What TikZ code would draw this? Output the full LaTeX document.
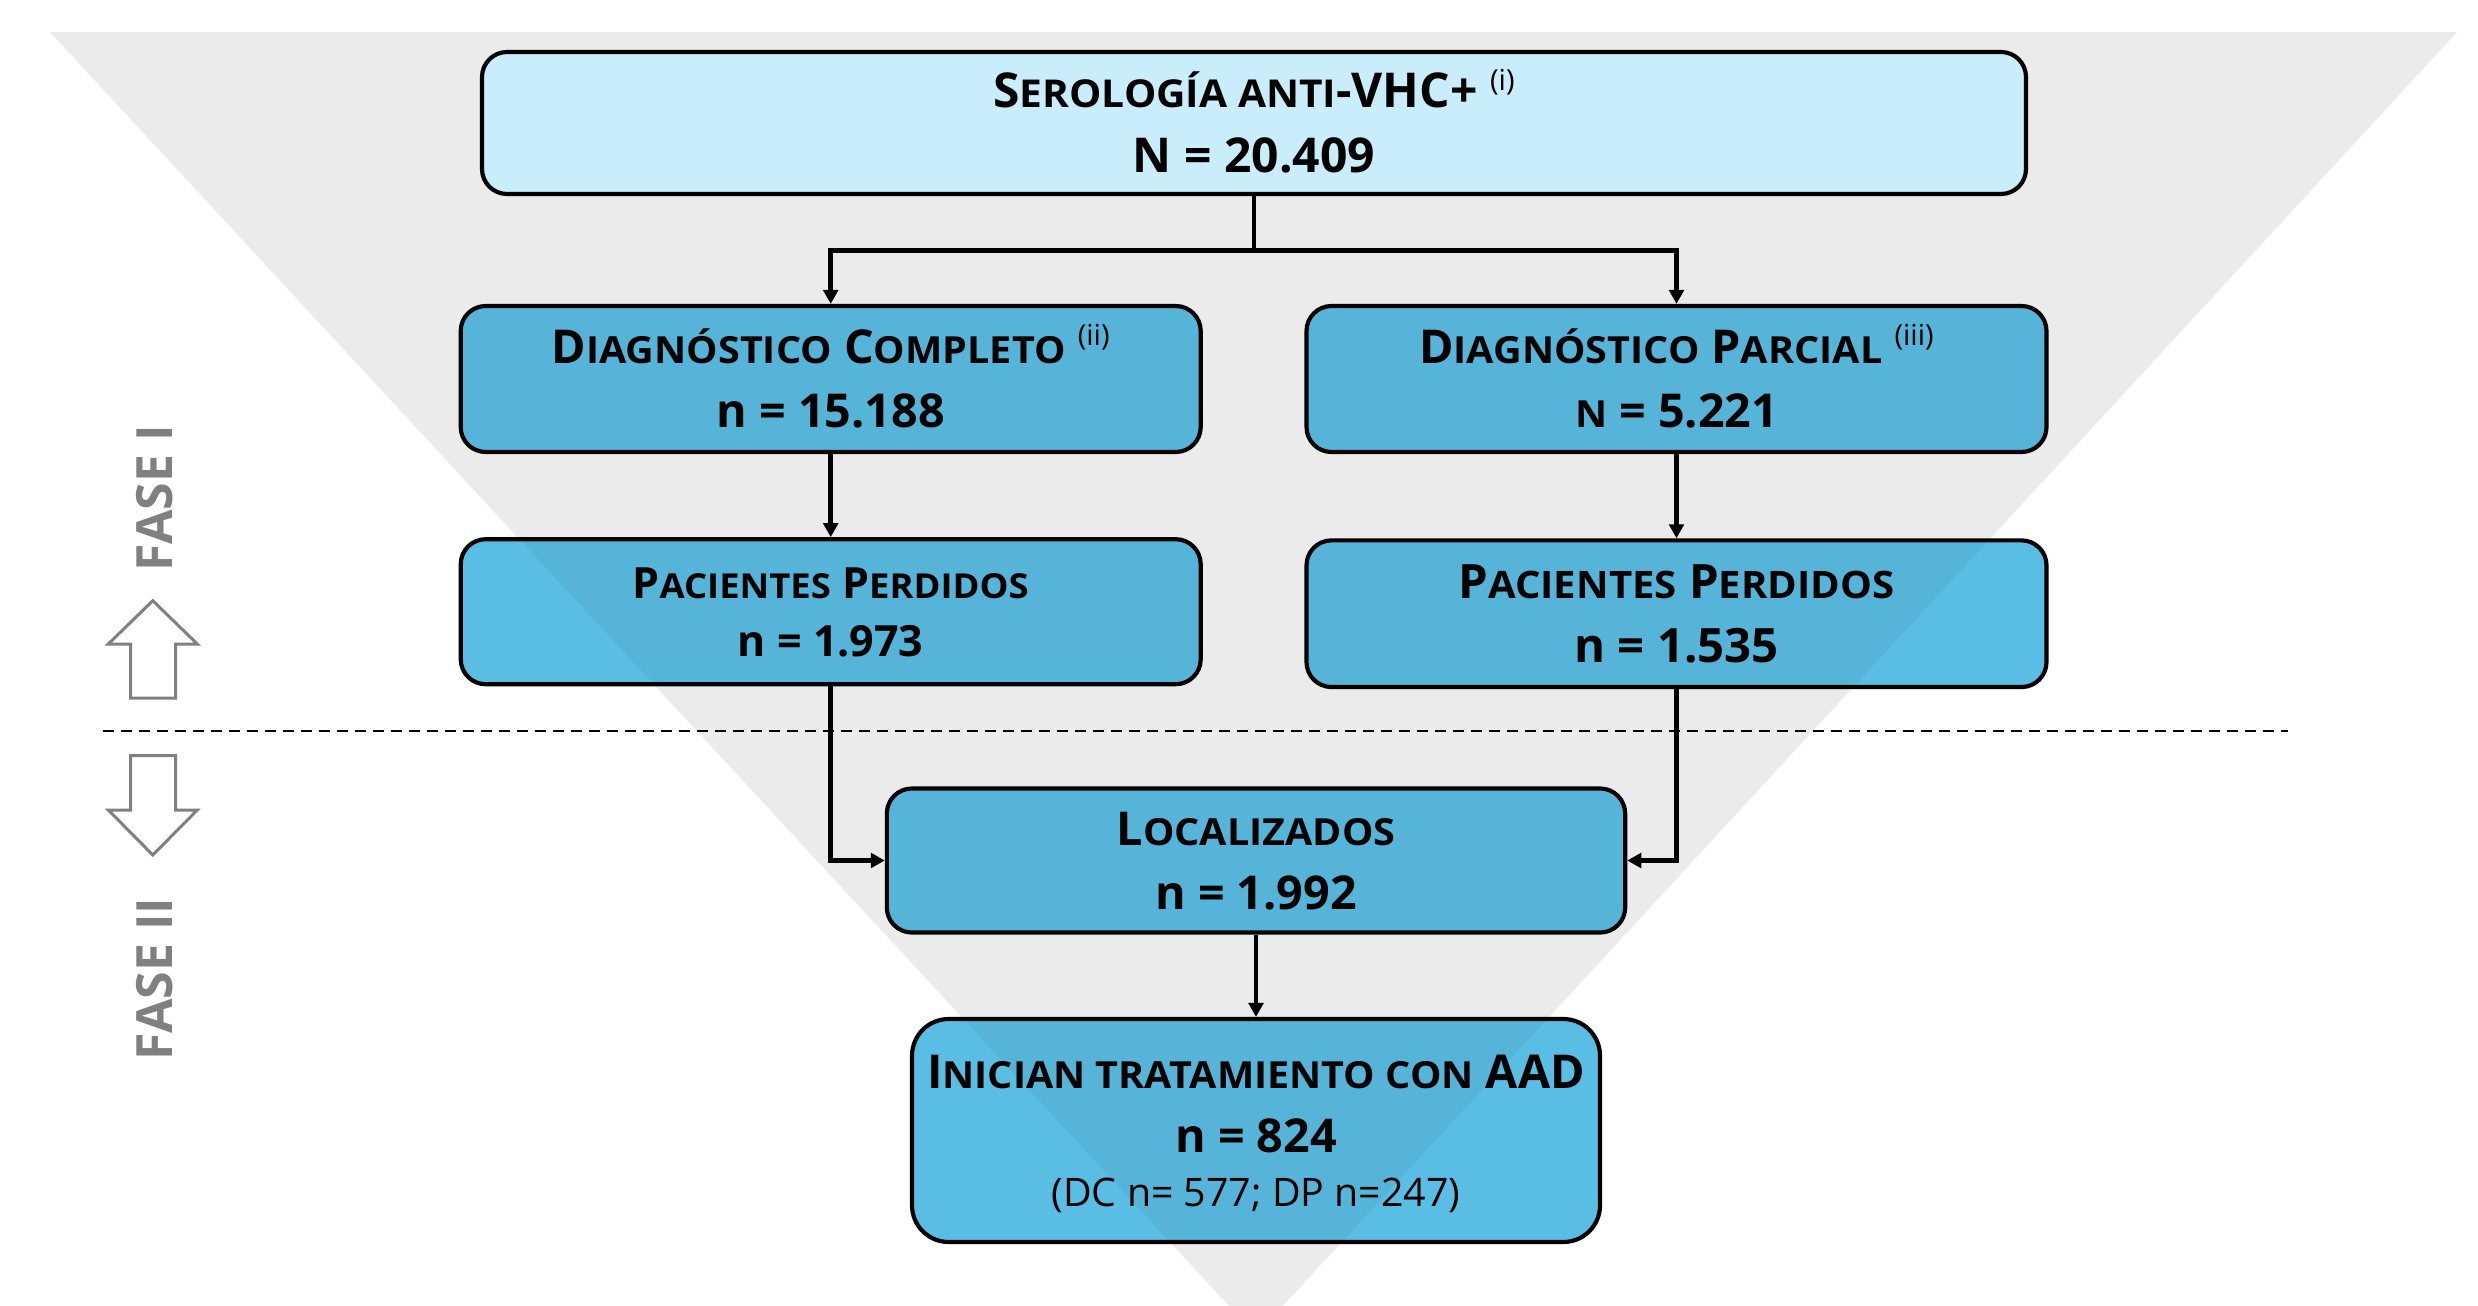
\documentclass[tikz,border=0pt]{standalone}
\usepackage{fontspec}
\setmainfont{Open Sans}
\newfontfamily\scfam[FakeStretch=1.06]{Open Sans}
\usetikzlibrary{arrows.meta}
\definecolor{boxblue}{HTML}{5ABDE3}
\definecolor{topblue}{HTML}{C9EDFB}
\definecolor{fasegray}{HTML}{808080}
\definecolor{funnel}{HTML}{F6F6F6}
\makeatletter
\newcommand\smc[1]{{\scfam\bfseries\fontsize{\fpeval{0.8*\f@size}}{\f@baselineskip}\selectfont #1}}
\makeatother
\newcommand\sups[1]{\smash{\raisebox{5.3pt}{\mdseries\fontsize{8.7}{8.7}\selectfont(#1)}}}
\newcommand\first[1]{\vphantom{N}\smash{#1}}
\begin{document}
\begin{tikzpicture}[x=0.3pt,y=-0.3pt,
  box/.style={draw=black,line width=1.25pt,rounded corners=7.5pt,fill=boxblue,inner sep=0pt,align=center,
    font=\bfseries\fontsize{14}{19.2}\selectfont,minimum width=222pt,minimum height=43.8pt},
  conn/.style={line width=1.4pt,-{Triangle[length=4.2pt,width=4.4pt]}},
  plainline/.style={line width=1.4pt},
  fasearrow/.style={draw=fasegray,line width=0.9pt,fill=white,line join=miter},
  fasetext/.style={text=fasegray,font=\bfseries\fontsize{15}{18}\selectfont,rotate=90,inner sep=0pt}]
\useasboundingbox (0,0) rectangle (2478,1306);
\fill[white] (0,0) rectangle (2478,1306);

% funnel background
\begin{scope}
\clip (0,0) rectangle (2478,1306);
\fill[funnel] (50,32) -- (2457,32) -- (1256,1335) -- cycle;
\end{scope}

% blue boxes
\node[box] (d1) at (830.7,379) {\first{D\smc{IAGNÓSTICO} C\smc{OMPLETO} \sups{ii}}\\\smash{n = 15.188}};
\node[box] (d2) at (1676.5,379) {\first{D\smc{IAGNÓSTICO} P\smc{ARCIAL} \sups{iii}}\\\smash{\smc{N} = 5.221}};
\node[box,minimum height=43.5pt,font=\bfseries\fontsize{12.9}{17.4}\selectfont] (p1) at (830.7,611.7)
  {\first{P\smc{ACIENTES} P\smc{ERDIDOS}}\\\smash{n = 1.973}};
\node[box,minimum height=44pt,font=\bfseries\fontsize{14.2}{19.2}\selectfont] (p2) at (1676.5,613.7) {\first{P\smc{ACIENTES} P\smc{ERDIDOS}}\\\smash{n = 1.535}};
\node[box,minimum width=221.5pt,minimum height=43.2pt] (loc) at (1256,860.5) {\first{L\smc{OCALIZADOS}}\\\smash{n = 1.992}};
\node[box,minimum width=206.4pt,minimum height=66.9pt,rounded corners=11pt] (ini) at (1256,1130.5)
  {\first{I\smc{NICIAN TRATAMIENTO CON} AAD}\\\smash{n = 824}\\[-3pt]\smash{\mdseries\fontsize{11.8}{14}\selectfont (DC n= 577; DP n=247)}};

% funnel overlay (slightly shades what lies inside it)
\begin{scope}
\clip (0,0) rectangle (2478,1306);
\fill[black,fill opacity=0.045] (50,32) -- (2457,32) -- (1256,1335) -- cycle;
\end{scope}

% top box
\node[box,fill=topblue,minimum width=463.2pt,minimum height=42.6pt,font=\bfseries\fontsize{14.4}{19.3}\selectfont] (top) at (1254,123)
  {\first{S\smc{EROLOGÍA ANTI}-VHC+ \sups{i}}\\\smash{N = 20.409}};

% connectors
\coordinate (j) at (1254,250.7);
\draw[plainline] (top.south) -- (j);
\draw[conn] (j) -| (d1.north);
\draw[conn] (j) -| (d2.north);
\draw[conn] (d1) -- (p1);
\draw[conn] (d2) -- (p2);
\draw[conn] (p1.south) |- (loc.west);
\draw[conn] (p2.south) |- (loc.east);
\draw[conn] (loc) -- (ini);

% phase separator
\coordinate (dl) at (103,730.5);
\coordinate (dr) at (2288,730.5);
\draw[line width=0.6pt,dash pattern=on 3.3pt off 2.1pt] (dl) -- (dr);

% phase arrows and labels
\draw[fasearrow] (152.8,600.7) -- (197.3,644) -- (175.5,644) -- (175.5,698) -- (130.5,698) -- (130.5,644) -- (108.3,644) -- cycle;
\draw[fasearrow] (130.5,755.5) -- (175.5,755.5) -- (175.5,810) -- (197.3,810) -- (152.8,855) -- (108.3,810) -- (130.5,810) -- cycle;
\node[fasetext] (fase1) at (154.7,498) {FASE I};
\node[fasetext] (fase2) at (154.7,979) {FASE II};
\end{tikzpicture}
\end{document}
